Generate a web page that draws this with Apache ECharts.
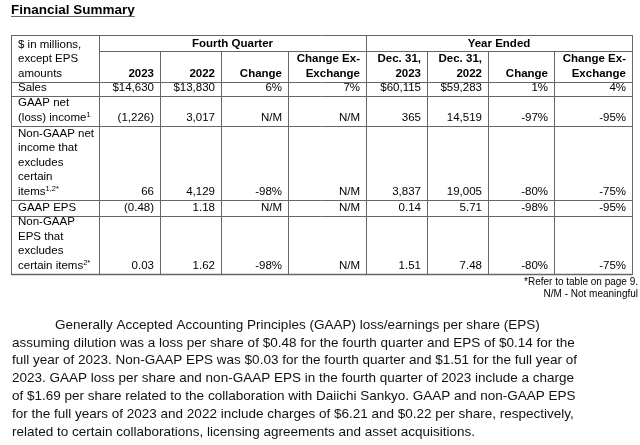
<!DOCTYPE html>
<html>
<head>
<meta charset="utf-8">
<script src="https://cdn.jsdelivr.net/npm/echarts@6/dist/echarts.min.js"></script>
<style>html,body{margin:0;padding:0;background:#fff;}#c{width:640px;height:445px;}</style>
</head>
<body>
<div id="c"></div>
<script>
// ---- content ----
const titleText = 'Financial Summary';
const stubHeader = ['$ in millions,', 'except EPS', 'amounts'];
const groupHeaders = ['Fourth Quarter', 'Year Ended'];
const columnHeaders = [
  ['2023'], ['2022'], ['Change'], ['Change Ex-', 'Exchange'],
  ['Dec. 31,', '2023'], ['Dec. 31,', '2022'], ['Change'], ['Change Ex-', 'Exchange']
];
const rowLabels = [
  ['Sales'],
  ['GAAP net', '(loss) income'],
  ['Non-GAAP net', 'income that', 'excludes', 'certain', 'items'],
  ['GAAP EPS'],
  ['Non-GAAP', 'EPS that', 'excludes', 'certain items']
];
const rowNotes = ['', '1', '1,2*', '', '2*'];
const sales            = ['$14,630', '$13,830', '6%', '7%', '$60,115', '$59,283', '1%', '4%'];
const gaapNetIncome    = ['(1,226)', '3,017', 'N/M', 'N/M', '365', '14,519', '-97%', '-95%'];
const nonGaapNetIncome = ['66', '4,129', '-98%', 'N/M', '3,837', '19,005', '-80%', '-75%'];
const gaapEps          = ['(0.48)', '1.18', 'N/M', 'N/M', '0.14', '5.71', '-98%', '-95%'];
const nonGaapEps       = ['0.03', '1.62', '-98%', 'N/M', '1.51', '7.48', '-80%', '-75%'];
const tableRows = [sales, gaapNetIncome, nonGaapNetIncome, gaapEps, nonGaapEps];
const footnotes = ['*Refer to table on page 9.', 'N/M - Not meaningful'];
const paragraphLines = [
  'Generally Accepted Accounting Principles (GAAP) loss/earnings per share (EPS)',
  'assuming dilution was a loss per share of $0.48 for the fourth quarter and EPS of $0.14 for the',
  'full year of 2023. Non-GAAP EPS was $0.03 for the fourth quarter and $1.51 for the full year of',
  '2023. GAAP loss per share and non-GAAP EPS in the fourth quarter of 2023 include a charge',
  'of $1.69 per share related to the collaboration with Daiichi Sankyo. GAAP and non-GAAP EPS',
  'for the full years of 2023 and 2022 include charges of $6.21 and $0.22 per share, respectively,',
  'related to certain collaborations, licensing agreements and asset acquisitions.'
];

// ---- layout ----
const FONT = '"Liberation Sans", Arial, sans-serif';
const tableLeft = 11, tableTop = 35;
const colWidths = [88, 61, 61, 67, 78, 61, 61, 66, 78];
const headRowHeights = [16, 31];
const bodyRowHeights = [14, 30, 74, 16, 58];
const groupSpans = [[1, 4], [5, 8]];
const lineColor = '#666';
const cellFont = 11.5;
const lineH = 14.5;
const padL = 7, padR = 6;

const colX = [tableLeft];
colWidths.forEach(w => colX.push(colX[colX.length - 1] + w));
const rowY = [tableTop];
headRowHeights.concat(bodyRowHeights).forEach(h => rowY.push(rowY[rowY.length - 1] + h));
const tableRight = colX[colX.length - 1];
const tableBottom = rowY[rowY.length - 1];
const headBottom = rowY[2];

const els = [];
function line(x1, y1, x2, y2, w) {
  els.push({ type: 'line', shape: { x1, y1, x2, y2 }, style: { stroke: lineColor, lineWidth: w || 1 }, silent: true });
}
function text(str, x, y, opt) {
  opt = opt || {};
  els.push({
    type: 'text', x, y, silent: true,
    style: Object.assign({
      text: str, fill: '#000', font: (opt.bold ? 'bold ' : '') + (opt.size || cellFont) + 'px ' + FONT,
      align: opt.align || 'left', verticalAlign: opt.va || 'bottom', lineHeight: opt.lh || lineH,
      rich: { sup: { fontSize: 7.5, fontFamily: FONT, verticalAlign: 'top', fill: '#000' } }
    }, opt.extra || {})
  });
}

// title
const titleSize = 13.5;
const measureCtx = document.createElement('canvas').getContext('2d');
measureCtx.font = 'bold ' + titleSize + 'px ' + FONT;
const titleW = measureCtx.measureText(titleText).width;
text(titleText, tableLeft, 10, { bold: true, size: titleSize, va: 'middle' });
line(tableLeft, 16.5, tableLeft + titleW, 16.5, 1.2);

// grid lines
line(tableLeft, tableTop + 0.5, tableRight, tableTop + 0.5);
line(tableLeft, tableBottom + 0.5, tableRight, tableBottom + 0.5, 1.3);
line(tableLeft + 0.5, tableTop, tableLeft + 0.5, tableBottom + 1);
line(tableRight + 0.5, tableTop, tableRight + 0.5, tableBottom + 1);
line(colX[1], rowY[1] + 0.5, tableRight, rowY[1] + 0.5);
for (let r = 2; r < rowY.length - 1; r++) line(tableLeft, rowY[r] + 0.5, tableRight, rowY[r] + 0.5);
for (let c = 1; c < colX.length - 1; c++) {
  const isGroupEdge = groupSpans.some(g => g[0] === c);
  line(colX[c] + 0.5, isGroupEdge ? tableTop : rowY[1], colX[c] + 0.5, tableBottom);
}

// headers
text(stubHeader.join('\n'), tableLeft + padL, headBottom - 1);
groupHeaders.forEach((g, i) => {
  const s = groupSpans[i];
  text(g, (colX[s[0]] + colX[s[1] + 1]) / 2, (rowY[0] + rowY[1]) / 2 + 1, { bold: true, align: 'center', va: 'middle' });
});
columnHeaders.forEach((h, i) => {
  text(h.join('\n'), colX[i + 2] - padR, headBottom - 1, { bold: true, align: 'right' });
});

// body
tableRows.forEach((vals, r) => {
  const bottom = rowY[r + 3] - 1;
  const label = rowLabels[r].join('\n') + (rowNotes[r] ? '{sup|' + rowNotes[r] + '}' : '');
  text(label, tableLeft + padL, bottom);
  vals.forEach((v, c) => text(v, colX[c + 2] - padR, bottom, { align: 'right' }));
});

// footnotes
footnotes.forEach((f, i) => text(f, 638, 282 + i * 12, { size: 10, align: 'right', va: 'middle', lh: 12 }));

// paragraph
const paraSize = 13.5, paraLine = 17.8;
paragraphLines.forEach((l, i) => {
  text(l, i === 0 ? 55 : 12, 325 + i * paraLine, { size: paraSize, va: 'middle', lh: paraLine, extra: { fill: '#111' } });
});

const chart = echarts.init(document.getElementById('c'), null, { renderer: 'canvas' });
chart.setOption({ backgroundColor: '#fff', animation: false, graphic: { elements: els } });
</script>
</body>
</html>
